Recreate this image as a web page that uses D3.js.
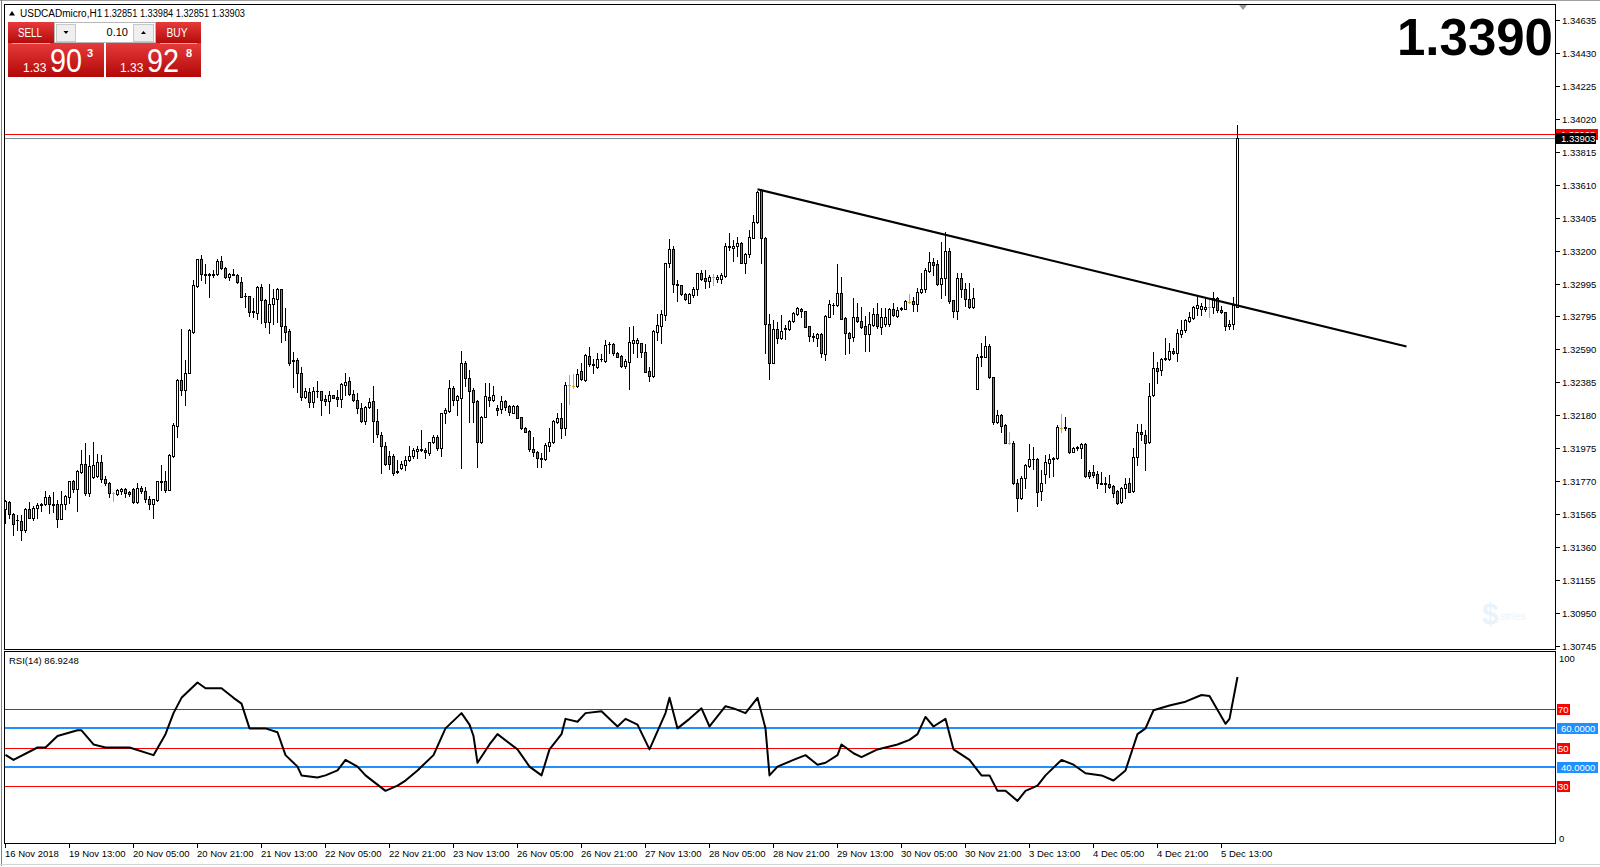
<!DOCTYPE html>
<html><head><meta charset="utf-8">
<script src="https://cdn.jsdelivr.net/npm/d3@7"></script>
<style>
html,body{margin:0;padding:0;background:#fff;overflow:hidden}
svg{display:block}
text{font-family:"Liberation Sans",Arial,sans-serif}
</style>
</head><body>
<svg id="chart" width="1600" height="867"></svg>
<script>
// ---------------- DATA ----------------
const symbolLabel = "USDCADmicro,H1";
const headerValues = ["1.32851", "1.33984", "1.32851", "1.33903"];
const bigPriceLabel = "1.3390";
const lotSize = "0.10";
const sellQuote = ["1.33", "90", "3"];
const buyQuote = ["1.33", "92", "8"];
const bidPrice = 1.33903;
const askPrice = 1.33928;

const opens = [1.31593,1.31638,1.31564,1.31528,1.31520,1.31462,1.31593,1.31541,1.31599,1.31622,
1.31624,1.31667,1.31626,1.31624,1.31535,1.31624,1.31671,1.31767,1.31721,1.31827,
1.31874,1.31696,1.31796,1.31800,1.31887,1.31781,1.31754,1.31696,1.31688,1.31707,
1.31717,1.31703,1.31719,1.31640,1.31725,1.31707,1.31655,1.31626,1.31651,1.31763,
1.31769,1.31713,1.31926,1.32111,1.32397,1.32335,1.32442,1.32697,1.32983,1.33147,
1.33056,1.33052,1.33054,1.33054,1.33136,1.33091,1.33035,1.33052,1.33049,1.33004,
1.32921,1.32919,1.32819,1.32815,1.32973,1.32894,1.32759,1.32867,1.32898,1.32960,
1.32732,1.32703,1.32519,1.32521,1.32438,1.32293,1.32320,1.32262,1.32328,1.32329,
1.32279,1.32263,1.32302,1.32289,1.32277,1.32366,1.32391,1.32308,1.32273,1.32221,
1.32144,1.32227,1.32267,1.32142,1.32055,1.31987,1.31925,1.31925,1.31829,1.31848,
1.31869,1.31896,1.31921,1.31958,1.31968,1.31962,1.31941,1.32008,1.32041,1.31972,
1.32190,1.32205,1.32345,1.32269,1.32287,1.32501,1.32408,1.32335,1.32263,1.32014,
1.32169,1.32289,1.32269,1.32221,1.32217,1.32267,1.32236,1.32194,1.32236,1.32165,
1.32097,1.32080,1.31966,1.31946,1.31912,1.31904,1.31989,1.32008,1.32138,1.32159,
1.32097,1.32366,1.32356,1.32356,1.32453,1.32397,1.32546,1.32497,1.32476,1.32524,
1.32517,1.32619,1.32619,1.32567,1.32546,1.32484,1.32511,1.32625,1.32629,1.32625,
1.32573,1.32453,1.32424,1.32697,1.32735,1.32801,1.33122,1.33209,1.32991,1.32985,
1.32929,1.32878,1.32925,1.32960,1.33060,1.33029,1.33012,1.33035,1.33027,1.33027,
1.33045,1.33228,1.33215,1.33230,1.33246,1.33126,1.33178,1.33282,1.33381,1.33578,
1.33282,1.32743,1.32505,1.32714,1.32660,1.32720,1.32712,1.32764,1.32805,1.32836,
1.32826,1.32732,1.32670,1.32656,1.32681,1.32558,1.32790,1.32865,1.32863,1.32940,
1.32780,1.32691,1.32666,1.32786,1.32766,1.32732,1.32681,1.32739,1.32805,1.32728,
1.32743,1.32743,1.32836,1.32795,1.32844,1.32838,1.32884,1.32890,1.32867,1.32946,
1.32960,1.33076,1.33132,1.33116,1.32991,1.33029,1.33199,1.32894,1.32828,1.33029,
1.32962,1.32900,1.32853,1.32339,1.32544,1.32542,1.32608,1.32417,1.32134,1.32179,
1.32117,1.32003,1.32003,1.31754,1.31661,1.31790,1.31864,1.31908,1.31906,1.31709,
1.31810,1.31883,1.31912,1.31910,1.32100,1.32103,1.32096,1.31951,1.31980,1.31976,
1.31997,1.31823,1.31823,1.31810,1.31757,1.31756,1.31750,1.31738,1.31707,1.31636,
1.31728,1.31754,1.31707,1.31916,1.32076,1.32055,1.32013,1.32304,1.32469,1.32459,
1.32534,1.32527,1.32579,1.32563,1.32683,1.32708,1.32766,1.32780,1.32846,1.32836,
1.32836,1.32848,1.32848,1.32904,1.32832,1.32817,1.32732,1.32743,1.32851];

const highs = [1.31651,1.31642,1.31568,1.31557,1.31557,1.31599,1.31640,1.31613,1.31630,1.31630,
1.31709,1.31682,1.31703,1.31651,1.31709,1.31682,1.31769,1.31775,1.31837,1.31962,
1.32007,1.31930,1.32013,1.31935,1.31930,1.31800,1.31765,1.31703,1.31717,1.31723,
1.31723,1.31707,1.31723,1.31754,1.31738,1.31734,1.31676,1.31655,1.31769,1.31868,
1.31833,1.31935,1.32131,1.32401,1.32712,1.32521,1.32712,1.33018,1.33149,1.33174,
1.33118,1.33060,1.33081,1.33147,1.33168,1.33097,1.33060,1.33085,1.33054,1.33039,
1.32935,1.32919,1.32904,1.32981,1.32993,1.32898,1.32991,1.32960,1.32967,1.32965,
1.32842,1.32712,1.32573,1.32531,1.32475,1.32345,1.32345,1.32355,1.32393,1.32329,
1.32304,1.32325,1.32304,1.32335,1.32376,1.32443,1.32418,1.32335,1.32314,1.32252,
1.32236,1.32283,1.32356,1.32215,1.32076,1.32008,1.31952,1.31937,1.31900,1.31890,
1.31921,1.31987,1.31972,1.31983,1.32086,1.31972,1.32014,1.32055,1.32055,1.32194,
1.32221,1.32397,1.32360,1.32304,1.32577,1.32517,1.32459,1.32345,1.32269,1.32173,
1.32376,1.32376,1.32360,1.32242,1.32294,1.32273,1.32242,1.32242,1.32240,1.32169,
1.32107,1.32086,1.32041,1.31952,1.31941,1.32004,1.32101,1.32149,1.32190,1.32256,
1.32387,1.32428,1.32434,1.32464,1.32501,1.32559,1.32600,1.32526,1.32563,1.32559,
1.32646,1.32635,1.32625,1.32573,1.32553,1.32526,1.32728,1.32732,1.32656,1.32629,
1.32621,1.32480,1.32708,1.32805,1.32832,1.33126,1.33271,1.33230,1.33018,1.32987,
1.32936,1.32936,1.32973,1.33064,1.33081,1.33081,1.33049,1.33054,1.33049,1.33060,
1.33246,1.33308,1.33267,1.33288,1.33257,1.33184,1.33329,1.33422,1.33574,1.33582,
1.33284,1.32805,1.32770,1.32759,1.32801,1.32739,1.32770,1.32822,1.32853,1.32846,
1.32828,1.32735,1.32687,1.32691,1.32687,1.32801,1.32894,1.32873,1.33118,1.33039,
1.32790,1.32697,1.32904,1.32878,1.32853,1.32795,1.32822,1.32842,1.32878,1.32842,
1.32842,1.32842,1.32873,1.32853,1.32853,1.32894,1.32931,1.32915,1.32967,1.33060,
1.33091,1.33195,1.33153,1.33143,1.33257,1.33319,1.33219,1.32894,1.33060,1.33060,
1.32998,1.32998,1.32971,1.32556,1.32629,1.32670,1.32618,1.32417,1.32210,1.32183,
1.32121,1.32071,1.32018,1.31779,1.31800,1.31873,1.31997,1.31982,1.31910,1.31837,
1.31931,1.31935,1.31920,1.32117,1.32183,1.32169,1.32100,1.31982,1.31987,1.32003,
1.32003,1.31837,1.31868,1.31831,1.31827,1.31796,1.31806,1.31744,1.31713,1.31734,
1.31786,1.31786,1.31976,1.32121,1.32121,1.32086,1.32376,1.32569,1.32511,1.32531,
1.32656,1.32625,1.32594,1.32712,1.32770,1.32776,1.32822,1.32859,1.32915,1.32873,
1.32904,1.32894,1.32942,1.32915,1.32859,1.32822,1.32770,1.32915,1.33984];

const lows = [1.31506,1.31537,1.31433,1.31464,1.31402,1.31454,1.31537,1.31526,1.31537,1.31584,
1.31620,1.31568,1.31578,1.31485,1.31531,1.31593,1.31630,1.31703,1.31584,1.31816,
1.31682,1.31676,1.31785,1.31796,1.31765,1.31744,1.31667,1.31647,1.31682,1.31688,
1.31671,1.31676,1.31634,1.31634,1.31696,1.31640,1.31593,1.31541,1.31647,1.31713,
1.31703,1.31713,1.31920,1.32045,1.32304,1.32241,1.32438,1.32691,1.32977,1.33018,
1.32998,1.32911,1.33039,1.33052,1.33085,1.33031,1.33018,1.33047,1.32998,1.32911,
1.32853,1.32795,1.32790,1.32774,1.32749,1.32724,1.32691,1.32743,1.32759,1.32635,
1.32645,1.32490,1.32351,1.32324,1.32272,1.32283,1.32231,1.32231,1.32293,1.32180,
1.32242,1.32194,1.32283,1.32236,1.32231,1.32304,1.32304,1.32263,1.32190,1.32138,
1.32124,1.32221,1.32008,1.32045,1.31817,1.31869,1.31842,1.31807,1.31817,1.31842,
1.31838,1.31890,1.31910,1.31910,1.31958,1.31910,1.31931,1.32004,1.31962,1.31925,
1.32132,1.32200,1.32242,1.32178,1.31848,1.32356,1.32138,1.32138,1.31858,1.32004,
1.32165,1.32236,1.32263,1.32180,1.32194,1.32207,1.32180,1.32190,1.32159,1.32091,
1.32072,1.31958,1.31921,1.31858,1.31858,1.31900,1.31952,1.32004,1.32132,1.32035,
1.32055,1.32248,1.32345,1.32352,1.32397,1.32393,1.32484,1.32439,1.32470,1.32517,
1.32511,1.32563,1.32553,1.32538,1.32480,1.32470,1.32339,1.32567,1.32542,1.32542,
1.32449,1.32393,1.32418,1.32645,1.32625,1.32770,1.33101,1.32946,1.32890,1.32925,
1.32894,1.32873,1.32915,1.32925,1.33018,1.32971,1.32977,1.32987,1.33008,1.32998,
1.33039,1.33205,1.33139,1.33168,1.33122,1.33064,1.33159,1.33277,1.33375,1.33126,
1.32567,1.32403,1.32500,1.32629,1.32650,1.32650,1.32708,1.32759,1.32801,1.32786,
1.32724,1.32641,1.32641,1.32610,1.32542,1.32521,1.32786,1.32807,1.32857,1.32774,
1.32556,1.32567,1.32641,1.32759,1.32718,1.32579,1.32579,1.32732,1.32718,1.32683,
1.32732,1.32732,1.32795,1.32790,1.32832,1.32836,1.32878,1.32828,1.32828,1.32936,
1.32946,1.33070,1.33049,1.32987,1.32909,1.32925,1.32873,1.32790,1.32776,1.32915,
1.32859,1.32842,1.32846,1.32339,1.32486,1.32538,1.32407,1.32121,1.32127,1.32071,
1.32003,1.31997,1.31750,1.31585,1.31657,1.31728,1.31858,1.31844,1.31616,1.31651,
1.31754,1.31796,1.31802,1.31906,1.32071,1.32086,1.31941,1.31947,1.31962,1.31910,
1.31796,1.31790,1.31796,1.31728,1.31748,1.31703,1.31728,1.31672,1.31626,1.31630,
1.31661,1.31699,1.31703,1.31868,1.32024,1.31837,1.32003,1.32299,1.32376,1.32428,
1.32521,1.32521,1.32556,1.32515,1.32666,1.32697,1.32759,1.32776,1.32801,1.32801,
1.32826,1.32790,1.32811,1.32822,1.32811,1.32708,1.32712,1.32712,1.32851];

const closes = [1.31647,1.31562,1.31499,1.31524,1.31462,1.31593,1.31541,1.31603,1.31620,1.31624,
1.31667,1.31624,1.31618,1.31535,1.31624,1.31676,1.31769,1.31721,1.31831,1.31874,
1.31696,1.31864,1.31868,1.31885,1.31779,1.31754,1.31692,1.31696,1.31711,1.31717,
1.31696,1.31688,1.31640,1.31723,1.31707,1.31655,1.31626,1.31655,1.31769,1.31769,
1.31713,1.31930,1.32117,1.32397,1.32335,1.32442,1.32708,1.32987,1.33147,1.33054,
1.33052,1.33056,1.33052,1.33136,1.33091,1.33035,1.33054,1.33056,1.33004,1.32915,
1.32917,1.32822,1.32826,1.32973,1.32894,1.32759,1.32869,1.32904,1.32960,1.32735,
1.32697,1.32505,1.32515,1.32438,1.32289,1.32328,1.32262,1.32328,1.32326,1.32273,
1.32263,1.32304,1.32287,1.32277,1.32370,1.32387,1.32308,1.32269,1.32221,1.32144,
1.32231,1.32260,1.32142,1.32059,1.31987,1.31873,1.31873,1.31817,1.31825,1.31873,
1.31896,1.31925,1.31962,1.31966,1.31964,1.31948,1.32010,1.32041,1.31972,1.32190,
1.32211,1.32345,1.32273,1.32294,1.32501,1.32408,1.32331,1.32258,1.32014,1.32165,
1.32298,1.32269,1.32304,1.32207,1.32267,1.32231,1.32200,1.32236,1.32163,1.32097,
1.32076,1.31966,1.31946,1.31914,1.31908,1.31993,1.32010,1.32142,1.32159,1.32097,
1.32366,1.32366,1.32356,1.32434,1.32401,1.32553,1.32495,1.32490,1.32526,1.32528,
1.32615,1.32621,1.32563,1.32542,1.32484,1.32515,1.32631,1.32645,1.32645,1.32573,
1.32449,1.32424,1.32701,1.32739,1.32805,1.33122,1.33211,1.32991,1.32985,1.32929,
1.32898,1.32929,1.32962,1.33060,1.33025,1.33014,1.33039,1.33035,1.33039,1.33049,
1.33230,1.33224,1.33230,1.33246,1.33126,1.33180,1.33284,1.33381,1.33567,1.33282,
1.32743,1.32505,1.32714,1.32656,1.32701,1.32716,1.32764,1.32811,1.32842,1.32826,
1.32728,1.32672,1.32662,1.32683,1.32563,1.32795,1.32869,1.32861,1.32936,1.32776,
1.32687,1.32660,1.32786,1.32766,1.32728,1.32681,1.32743,1.32805,1.32735,1.32790,
1.32790,1.32836,1.32801,1.32832,1.32840,1.32888,1.32884,1.32867,1.32946,1.32960,
1.33081,1.33128,1.33112,1.32991,1.33029,1.33199,1.32890,1.32828,1.33029,1.32960,
1.32898,1.32848,1.32904,1.32538,1.32540,1.32608,1.32417,1.32134,1.32179,1.32113,
1.32007,1.32003,1.31754,1.31661,1.31790,1.31868,1.31904,1.31904,1.31703,1.31754,
1.31885,1.31904,1.31908,1.32103,1.32100,1.32098,1.31947,1.31972,1.31976,1.31997,
1.31802,1.31802,1.31806,1.31754,1.31752,1.31752,1.31734,1.31696,1.31630,1.31728,
1.31750,1.31703,1.31916,1.32076,1.32059,1.32007,1.32299,1.32469,1.32453,1.32525,
1.32529,1.32579,1.32563,1.32687,1.32708,1.32770,1.32786,1.32848,1.32863,1.32857,
1.32853,1.32848,1.32904,1.32832,1.32817,1.32732,1.32745,1.32863,1.33903];

const timeLabels = ["16 Nov 2018","19 Nov 13:00","20 Nov 05:00","20 Nov 21:00","21 Nov 13:00",
"22 Nov 05:00","22 Nov 21:00","23 Nov 13:00","26 Nov 05:00","26 Nov 21:00","27 Nov 13:00",
"28 Nov 05:00","28 Nov 21:00","29 Nov 13:00","30 Nov 05:00","30 Nov 21:00","3 Dec 13:00",
"4 Dec 05:00","4 Dec 21:00","5 Dec 13:00"];
const timeLabelBars = [0,16,32,48,64,80,96,112,128,144,160,176,192,208,224,240,256,272,288,304];

const priceTickLabels = ["1.34635","1.34430","1.34225","1.34020","1.33815","1.33610","1.33405",
"1.33200","1.32995","1.32795","1.32590","1.32385","1.32180","1.31975","1.31770","1.31565",
"1.31360","1.31155","1.30950","1.30745"];

const trendBars = [188, 350.25];
const trendPrices = [1.33582, 1.32605];

const rsiLabel = "RSI(14) 86.9248";
const rsiBars = [0,2,8,10,13,18,19,22,25,31,37,40,42,44,48,50,54,57,59,61,65,68,70,73,74,78,80,83,85,88,
90,95,98,100,103,105,107,110,114,116,117,118,121,123,128,131,134,136,139,140,143,145,149,153,155,158,161,165,166,168,
171,174,176,180,182,185,188,190,191,193,197,200,203,205,208,209,212,214,218,223,226,228,230,232,235,237,241,244,246,248,
250,253,255,258,260,264,267,270,274,277,280,283,285,287,291,295,299,301,305,306,308];
const rsiValues = [46.2,43.5,50,50,56,59,59,51.6,50,50,46,57,68,76,84,81,81,76,73,60,60,58,46,40,35.4,34.3,35.4,38,43.5,40,
35.4,27.3,30,32.7,38,42,46,60,68,62,56,42,51.6,57,49,40,35.4,49,57,65,63.5,68,69,61,65,62,49,68,76,60,
65,70.5,61,71.6,70.5,68,76,60,35.4,40,43.5,46,41,42,46,51.6,47,45,49,51.6,54,57,66,61,65,49,43.5,35.4,35.4,27.3,
27.3,22,27.3,30,35.4,43.5,41,36.5,35.4,32.7,38,57,60,69.5,72,74,77.5,77,62.4,65,86.9248];
const rsiRedLevels = [70, 50, 30];
const rsiBlueLevels = [60, 40];
const rsiBlueLabels = ["60.0000", "40.0000"];

// ---------------- LAYOUT / STYLE ----------------
const BLUE = "#1E90FF", GOLD = "#DAA520", RED = "#FF0000";
const panelL = 4.5, panelR = 1555.5;
const mainTop = 4.5, mainBot = 649.5, rsiTop = 651.5, rsiBot = 843.5;

const svg = d3.select("#chart");
const defs = svg.append("defs");
defs.append("clipPath").attr("id","clipMain").append("rect").attr("x",5).attr("y",5).attr("width",1550).attr("height",644);
defs.append("clipPath").attr("id","clipRsi").append("rect").attr("x",5).attr("y",652).attr("width",1550).attr("height",191);
const rg = defs.append("linearGradient").attr("id","redGrad").attr("x1",0).attr("y1",0).attr("x2",0).attr("y2",1);
rg.append("stop").attr("offset","0%").attr("stop-color","#e63b3b");
rg.append("stop").attr("offset","100%").attr("stop-color","#b30808");

// scales
const x = d3.scaleLinear().domain([0, 308]).range([5, 1237]);
const px = i => Math.round(x(i));
const y = d3.scaleLinear().domain([1.30724, 1.34734]).range([649, 4]);
const yr = d3.scaleLinear().domain([0, 100]).range([843, 652]);

// frame
svg.append("line").attr("x1",0).attr("x2",1600).attr("y1",0.5).attr("y2",0.5).attr("stroke","#a0a0a0");
svg.append("line").attr("x1",1.5).attr("x2",1.5).attr("y1",0).attr("y2",866).attr("stroke","#808080");
svg.append("line").attr("x1",0).attr("x2",1600).attr("y1",864.5).attr("y2",864.5).attr("stroke","#d4d4d4");

// panels
[[mainTop, mainBot],[rsiTop, rsiBot]].forEach(([t,b]) => {
  svg.append("rect").attr("x",panelL).attr("y",t).attr("width",panelR-panelL).attr("height",b-t)
    .attr("fill","#fff").attr("stroke","#000").attr("shape-rendering","crispEdges");
});

// shift marker
svg.append("path").attr("d","M1239,5 L1247,5 L1243,10 Z").attr("fill","#9a9a9a");

// ---------- main chart ----------
const cg = svg.append("g").attr("clip-path","url(#clipMain)").attr("shape-rendering","crispEdges");

// bid / ask lines
cg.append("line").attr("x1",5).attr("x2",1555).attr("y1",Math.round(y(askPrice))+0.5).attr("y2",Math.round(y(askPrice))+0.5).attr("stroke",RED);
cg.append("line").attr("x1",5).attr("x2",1555).attr("y1",Math.round(y(bidPrice))+0.5).attr("y2",Math.round(y(bidPrice))+0.5).attr("stroke","#778899");

const bars = opens.map((o,i) => ({i, o, h: highs[i], l: lows[i], c: closes[i]}));
cg.selectAll("line.wick").data(bars).join("line").attr("class","wick")
  .attr("x1", d => px(d.i)+0.5).attr("x2", d => px(d.i)+0.5)
  .attr("y1", d => Math.round(y(d.h))).attr("y2", d => Math.round(y(d.l))+1)
  .attr("stroke", d => d.o === d.c ? GOLD : "#000");

const bodyTop = d => Math.round(y(Math.max(d.o,d.c)));
const bodyBot = d => Math.round(y(Math.min(d.o,d.c)));
const tall = bars.filter(d => d.o !== d.c && bodyBot(d) - bodyTop(d) >= 1);
const flat = bars.filter(d => !(d.o !== d.c && bodyBot(d) - bodyTop(d) >= 1));
cg.selectAll("rect.body").data(tall).join("rect").attr("class","body")
  .attr("x", d => px(d.i)-0.5).attr("y", d => bodyTop(d)+0.5)
  .attr("width", 2).attr("height", d => bodyBot(d)-bodyTop(d))
  .attr("fill", d => d.c > d.o ? "#fff" : BLUE).attr("stroke","#000");
cg.selectAll("line.flat").data(flat).join("line").attr("class","flat")
  .attr("x1", d => px(d.i)-1).attr("x2", d => px(d.i)+2)
  .attr("y1", d => bodyTop(d)+0.5).attr("y2", d => bodyTop(d)+0.5)
  .attr("stroke", d => d.o === d.c ? GOLD : "#000");

// trend line
svg.append("g").attr("clip-path","url(#clipMain)").append("line")
  .attr("x1", x(trendBars[0])+0.5).attr("y1", y(trendPrices[0]))
  .attr("x2", x(trendBars[1])+0.5).attr("y2", y(trendPrices[1]))
  .attr("stroke","#000").attr("stroke-width",2);

// watermark (faint)
const wm = svg.append("g").attr("opacity",0.5);
wm.append("text").attr("x",1482).attr("y",624).attr("font-size",30).attr("font-weight","bold").attr("fill","#d6e9f8").text("$");
wm.append("text").attr("x",1500).attr("y",620).attr("font-size",11).attr("fill","#d6e9f8").text("stries");

// price axis
const pa = svg.append("g");
pa.selectAll("line").data(priceTickLabels).join("line")
  .attr("x1",1556).attr("x2",1560)
  .attr("y1", d => Math.round(y(+d))+0.5).attr("y2", d => Math.round(y(+d))+0.5)
  .attr("stroke","#000").attr("shape-rendering","crispEdges");
pa.selectAll("text").data(priceTickLabels).join("text")
  .attr("x",1562).attr("y", d => Math.round(y(+d))+3.5)
  .attr("font-size","9.5px").attr("fill","#000").text(d => d);

// ask / bid labels (ask box sits mostly behind the bid box, as in the terminal)
const askY = Math.round(y(askPrice)), bidY = Math.round(y(bidPrice));
svg.append("rect").attr("x",1556).attr("y",askY-5).attr("width",42).attr("height",11).attr("fill",RED);
svg.append("text").attr("x",1561).attr("y",askY+4).attr("font-size","9.5px").attr("fill","#fff").text(askPrice.toFixed(5));
svg.append("rect").attr("x",1556).attr("y",bidY-5).attr("width",40).attr("height",11).attr("fill","#000");
svg.append("text").attr("x",1561).attr("y",bidY+4).attr("font-size","9.5px").attr("fill","#fff").text(bidPrice.toFixed(5));

// big price
svg.append("text").attr("x",1553).attr("y",55).attr("text-anchor","end")
  .attr("font-size","51px").attr("font-weight","bold").attr("fill","#000").text(bigPriceLabel);

// header
svg.append("path").attr("d","M9,15.5 L15,15.5 L12,11 Z").attr("fill","#000");
svg.append("text").attr("x",20).attr("y",16.5).attr("font-size","10px").attr("fill","#000").text(symbolLabel);
svg.append("text").attr("x",104).attr("y",16.5).attr("font-size","10px").attr("fill","#000")
  .attr("textLength",141).attr("lengthAdjust","spacingAndGlyphs").text(headerValues.join(" "));

// one-click trading panel
const tp = svg.append("g");
tp.append("rect").attr("x",8).attr("y",22).attr("width",46).attr("height",22).attr("fill","url(#redGrad)");
tp.append("rect").attr("x",8).attr("y",43).attr("width",96).attr("height",34).attr("fill","url(#redGrad)");
tp.append("rect").attr("x",156).attr("y",22).attr("width",45).attr("height",22).attr("fill","url(#redGrad)");
tp.append("rect").attr("x",106).attr("y",43).attr("width",95).attr("height",34).attr("fill","url(#redGrad)");
tp.append("line").attr("x1",12).attr("x2",50).attr("y1",43.5).attr("y2",43.5).attr("stroke","#f2a0a0");
tp.append("line").attr("x1",160).attr("x2",197).attr("y1",43.5).attr("y2",43.5).attr("stroke","#f2a0a0");
tp.append("rect").attr("x",54.5).attr("y",22.5).attr("width",101).attr("height",20).attr("fill","#fff").attr("stroke","#b8b8b8");
tp.append("rect").attr("x",56.5).attr("y",24.5).attr("width",19).attr("height",17).attr("fill","#efefef").attr("stroke","#c8c8c8");
tp.append("rect").attr("x",133.5).attr("y",24.5).attr("width",20).attr("height",17).attr("fill","#efefef").attr("stroke","#c8c8c8");
tp.append("path").attr("d","M63.5,31 L68.5,31 L66,34 Z").attr("fill","#000");
tp.append("path").attr("d","M141,34 L146,34 L143.5,31 Z").attr("fill","#000");
tp.append("text").attr("x",128).attr("y",36).attr("text-anchor","end").attr("font-size","11px").attr("fill","#000").text(lotSize);
tp.append("text").attr("x",30).attr("y",36.5).attr("text-anchor","middle").attr("font-size","12px").attr("fill","#fff")
  .attr("textLength",24).attr("lengthAdjust","spacingAndGlyphs").text("SELL");
tp.append("text").attr("x",177).attr("y",36.5).attr("text-anchor","middle").attr("font-size","12px").attr("fill","#fff")
  .attr("textLength",21).attr("lengthAdjust","spacingAndGlyphs").text("BUY");
[[sellQuote, 23, 50, 87],[buyQuote, 120, 147, 186]].forEach(([q, x1, x2, x3]) => {
  tp.append("text").attr("x",x1).attr("y",72).attr("font-size","12px").attr("fill","#fff").text(q[0]);
  tp.append("text").attr("x",x2).attr("y",72).attr("font-size","34px").attr("fill","#fff")
    .attr("textLength",32).attr("lengthAdjust","spacingAndGlyphs").text(q[1]);
  tp.append("text").attr("x",x3).attr("y",57).attr("font-size","11px").attr("font-weight","bold").attr("fill","#fff").text(q[2]);
});

// ---------- RSI panel ----------
const rg2 = svg.append("g").attr("clip-path","url(#clipRsi)");
rg2.selectAll("line.red").data(rsiRedLevels).join("line").attr("class","red")
  .attr("x1",5).attr("x2",1555).attr("y1", d => Math.round(yr(d))+0.5).attr("y2", d => Math.round(yr(d))+0.5)
  .attr("stroke",RED).attr("shape-rendering","crispEdges");
rg2.selectAll("line.blue").data(rsiBlueLevels).join("line").attr("class","blue")
  .attr("x1",5).attr("x2",1555).attr("y1", d => Math.round(yr(d))).attr("y2", d => Math.round(yr(d)))
  .attr("stroke",BLUE).attr("stroke-width",2).attr("shape-rendering","crispEdges");
const rsiLine = d3.line().x(i => x(rsiBars[i])+0.5).y(i => yr(rsiValues[i]));
rg2.append("path").attr("d", rsiLine(d3.range(rsiBars.length)))
  .attr("fill","none").attr("stroke","#000").attr("stroke-width",2).attr("stroke-linejoin","round");
svg.append("text").attr("x",9).attr("y",664).attr("font-size","9.5px").attr("fill","#000").text(rsiLabel);

// RSI axis labels
svg.append("text").attr("x",1559).attr("y",662).attr("font-size","9.5px").text("100");
svg.append("text").attr("x",1559).attr("y",842).attr("font-size","9.5px").text("0");
rsiRedLevels.forEach(v => {
  const yy = Math.round(yr(v));
  svg.append("rect").attr("x",1557).attr("y",yy-5).attr("width",13).attr("height",11).attr("fill",RED);
  svg.append("text").attr("x",1558).attr("y",yy+4).attr("font-size","9.5px").attr("fill","#fff").text(v);
});
rsiBlueLevels.forEach((v,k) => {
  const yy = Math.round(yr(v));
  svg.append("rect").attr("x",1557).attr("y",yy-5).attr("width",41).attr("height",11).attr("fill",BLUE);
  svg.append("text").attr("x",1561).attr("y",yy+4).attr("font-size","9.5px").attr("fill","#fff").text(rsiBlueLabels[k]);
});

// time axis
const ta = svg.append("g");
ta.selectAll("line").data(timeLabelBars).join("line")
  .attr("x1", d => px(d)+0.5).attr("x2", d => px(d)+0.5).attr("y1",844).attr("y2",848)
  .attr("stroke","#000").attr("shape-rendering","crispEdges");
ta.selectAll("text").data(timeLabels).join("text")
  .attr("x", (d,k) => px(timeLabelBars[k])).attr("y",857)
  .attr("font-size","9.5px").attr("fill","#000").text(d => d);
</script>
</body></html>
